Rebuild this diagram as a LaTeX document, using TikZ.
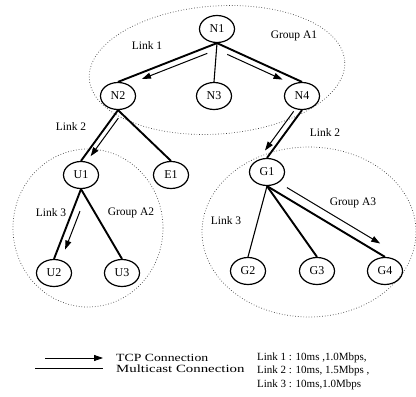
\documentclass[tikz,border=0pt]{standalone}
\usepackage{fontspec}
\setmainfont{Liberation Serif}
\usetikzlibrary{arrows.meta,calc,shapes.geometric}
\begin{document}
\begin{tikzpicture}[x=1pt,y=-1pt,
  host/.style={draw, ellipse, line width=1.2pt, minimum width=35pt, minimum height=27pt, inner sep=0pt, font=\fontsize{12}{12}\selectfont},
  group/.style={draw=black!75, dotted, line width=0.7pt},
  mcast/.style={line width=1.9pt},
  mthin/.style={line width=1.1pt},
  legline/.style={line width=0.8pt},
  tcp/.style={line width=1pt, -{Triangle[length=9pt,width=6pt]}},
  lbl/.style={font=\fontsize{11.5}{12}\selectfont, inner sep=0pt},
  leg/.style={font=\fontsize{11}{12}\selectfont, inner sep=0pt, anchor=west}]
\useasboundingbox (0,0) rectangle (416,397);
% groups
\draw[group, rotate around={4:(217,70)}] (217,70) ellipse [x radius=128pt, y radius=64pt];
\draw[group] (88,228) ellipse [x radius=75pt, y radius=79pt];
\draw[group] (309,232) ellipse [x radius=107pt, y radius=85pt];
% hosts
\node[host] (N1) at (217,29) {N1};
\node[host] (N2) at (118,96) {N2};
\node[host] (N3) at (214,96) {N3};
\node[host] (N4) at (302,96) {N4};
\node[host] (U1) at (81,175) {U1};
\node[host] (E1) at (171,175) {E1};
\node[host] (G1) at (267,172) {G1};
\node[host] (U2) at (54,273) {U2};
\node[host] (U3) at (122,273) {U3};
\node[host] (G2) at (248,271) {G2};
\node[host] (G3) at (317,271) {G3};
\node[host] (G4) at (385,271) {G4};
% multicast links
\draw[mcast] (N1.south) -- (N2.north);
\draw[mthin] (N1.south) -- (N3.north);
\draw[mcast] (N1.south) -- (N4.north);
\draw[mcast] (N2.south) -- (U1.north);
\draw[mcast] (N2.south) -- (E1.north);
\draw[mcast] (N4.south) -- (G1.north);
\draw[mcast] (U1.south) -- (U2.north);
\draw[mcast] (U1.south) -- (U3.north);
\draw[mthin] (G1.south) -- (G2.north);
\draw[mcast] (G1.south) -- (G3.north);
\draw[mcast] (G1.south) -- (G4.north);
% tcp arrows
\draw[tcp] ($(N1.south)!0.12!(N2.north)!6pt!90:(N2.north)$) -- ($(N1.south)!0.78!(N2.north)!6pt!90:(N2.north)$);
\draw[tcp] ($(N1.south)!0.15!(N4.north)!6pt!-90:(N4.north)$) -- ($(N1.south)!0.80!(N4.north)!6pt!-90:(N4.north)$);
\draw[tcp] ($(N2.south)!0.10!(U1.north)!5pt!90:(U1.north)$) -- ($(N2.south)!0.85!(U1.north)!5pt!90:(U1.north)$);
\draw[tcp] ($(N4.south)!0.10!(G1.north)!6pt!-90:(G1.north)$) -- ($(N4.south)!0.92!(G1.north)!6pt!-90:(G1.north)$);
\draw[tcp] ($(U1.south)!0.28!(U2.north)!7pt!90:(U2.north)$) -- ($(U1.south)!0.83!(U2.north)!7pt!90:(U2.north)$);
\draw[tcp] ($(G1.south)!0.13!(G4.north)!9pt!90:(G4.north)$) -- ($(G1.south)!0.92!(G4.north)!9pt!90:(G4.north)$);
% labels
\node[lbl] (l1) at (147,46) {Link 1};
\node[lbl] (ga1) at (294,36) {Group A1};
\node[lbl] (l2a) at (71,127) {Link 2};
\node[lbl] (l2b) at (325,133) {Link 2};
\node[lbl] (l3a) at (51,213) {Link 3};
\node[lbl] (ga2) at (131,213) {Group A2};
\node[lbl] (l3b) at (226,221) {Link 3};
\node[lbl] (ga3) at (353,203) {Group A3};
% legend
\coordinate (t1) at (45,358);
\coordinate (t2) at (103,358);
\coordinate (m1) at (35,368);
\coordinate (m2) at (103,368);
\draw[tcp, line width=0.8pt] (t1) -- (t2);
\draw[legline] (m1) -- (m2);
\node[leg] (tcpl) at (116,358) {\scalebox{1.25}[1]{TCP Connection}};
\node[leg] (mcl) at (116,369) {\scalebox{1.35}[1]{Multicast Connection}};
\node[leg] (k1) at (257,358) {Link 1 : 10ms ,1.0Mbps,};
\node[leg] (k2) at (257,371) {Link 2 : 10ms, 1.5Mbps ,};
\node[leg] (k3) at (257,385) {Link 3 : 10ms,1.0Mbps};
\end{tikzpicture}
\end{document}
